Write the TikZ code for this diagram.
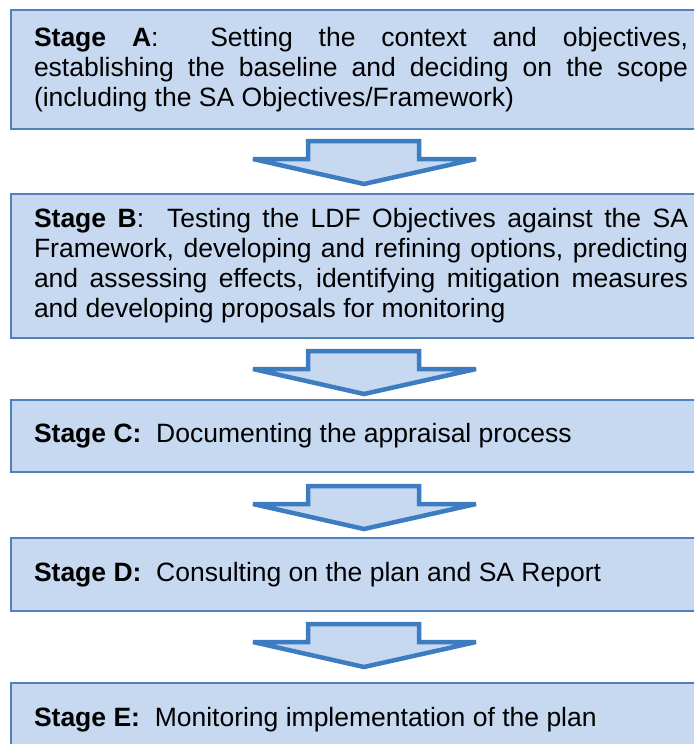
\documentclass[tikz,border=0pt]{standalone}
\usepackage{fontspec}
\setmainfont{Liberation Sans}
\usepackage{tikz}
\usetikzlibrary{calc}
\definecolor{stagefill}{RGB}{198,217,241}
\definecolor{stageline}{RGB}{79,129,189}
\definecolor{arrowline}{RGB}{62,124,193}
\newcommand{\stg}[1]{\textbf{Stage #1}}
\hyphenpenalty=10000
\exhyphenpenalty=10000
\tolerance=9999
\emergencystretch=20pt

\tikzset{
  stagebox/.style={draw=stageline, line width=2pt, fill=stagefill, anchor=north west,
    text width=654pt, inner xsep=23pt, inner ysep=3pt, align=justify,
    font=\fontsize{26.5}{30}\selectfont},
  pics/stagearrow/.style={code={
    \draw[arrowline, fill=stagefill, line width=4.5pt, miter limit=2]
      (-56,0) -- (55,0) -- (55,18) -- (112,18) -- (0,43) -- (-111,18) -- (-56,18) -- cycle;}}
}

\begin{document}
\begin{tikzpicture}[x=1pt, y=-1pt]
    \path[use as bounding box] (0,0) rectangle (694,744);
    \clip (0,0) rectangle (694,744);

    \node[stagebox, minimum height=119pt] (stageA) at (10,9)
        {\stg{A}:\ \ Setting the context and objectives,\linebreak
         establishing the baseline and deciding on the scope\linebreak
         (including the SA Objectives/Framework)};
    \node[stagebox, minimum height=144pt] (stageB) at (10,193)
        {\stg{B}:\ \ Testing the LDF Objectives against the SA\linebreak
         Framework, developing and refining options, predicting\linebreak
         and assessing effects, identifying mitigation measures\linebreak
         and developing proposals for monitoring};
    \node[stagebox, minimum height=72pt] (stageC) at (10,399)
        {\textbf{Stage C:}\ \ Documenting the appraisal process};
    \node[stagebox, minimum height=73pt] (stageD) at (10,537)
        {\textbf{Stage D:}\ \ Consulting on the plan and SA Report};
    \node[stagebox, minimum height=73pt] (stageE) at (10,682)
        {\textbf{Stage E:}\ \ Monitoring implementation of the plan};

    % block arrows between the stages
    \pic at ($(stageA.south)+(3,11)$) {stagearrow};
    \pic at ($(stageB.south)+(3,12)$) {stagearrow};
    \pic at ($(stageC.south)+(3,13)$) {stagearrow};
    \pic at ($(stageD.south)+(3,12)$) {stagearrow};

\end{tikzpicture}
\end{document}
